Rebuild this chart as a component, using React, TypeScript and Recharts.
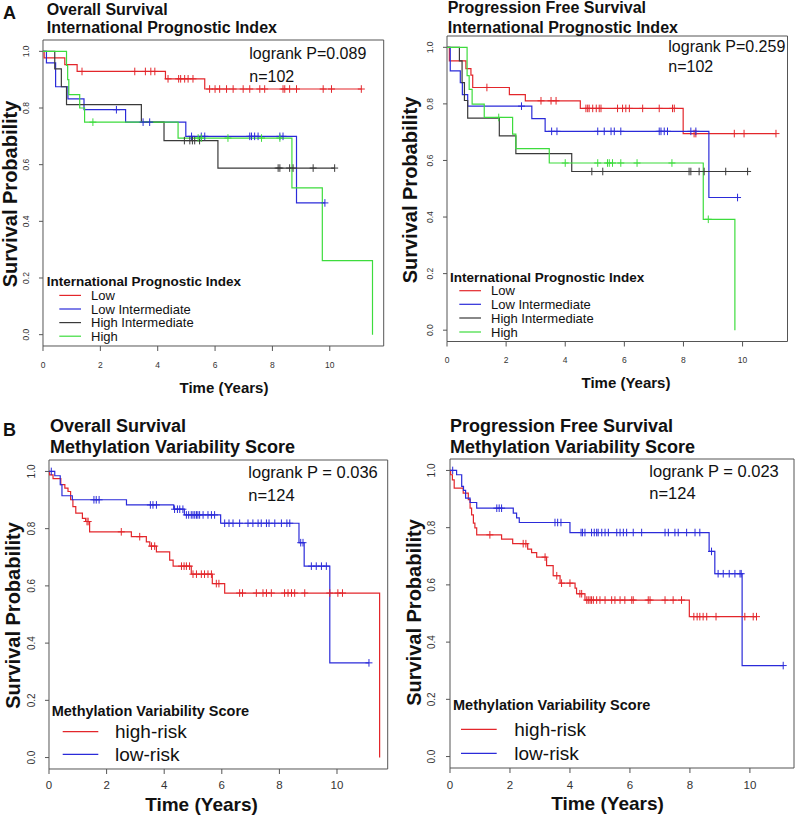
import React from 'react';
import { LineChart, Line, XAxis, YAxis, ReferenceArea } from 'recharts';

// Kaplan-Meier curves: steps are [time, survival after the drop],
// censors are the times of the "+" marks.
const X_TICKS = [0, 2, 4, 6, 8, 10];
const Y_TICKS = [0, 0.2, 0.4, 0.6, 0.8, 1.0];

// A left: overall survival by IPI
const osIpiLowSteps = [[0, 1], [0.04, 0.977], [0.76, 0.953], [1.19, 0.929], [4.27, 0.903], [5.64, 0.867]];
const osIpiLowCensors = [1.36, 3.2, 3.57, 3.76, 3.9, 4.36, 4.73, 4.8, 4.94, 5.06, 5.23, 5.81, 6.0, 6.16, 6.4, 6.63, 6.98, 7.21, 7.56, 7.73, 8.37, 8.43, 8.6, 8.84, 9.77, 10.06, 11.1];
const osIpiLowIntSteps = [[0, 1], [0.12, 0.959], [0.44, 0.875], [0.87, 0.832], [1.43, 0.794], [2.88, 0.75], [4.98, 0.7], [8.84, 0.465]];
const osIpiLowIntCensors = [2.56, 3.49, 3.72, 5.18, 5.52, 5.64, 7.21, 7.27, 7.38, 7.5, 8.26, 8.37, 9.83];
const osIpiHighIntSteps = [[0, 1], [0.41, 0.938], [0.64, 0.875], [0.82, 0.812], [3.43, 0.75], [4.22, 0.685], [6.1, 0.588]];
const osIpiHighIntCensors = [4.93, 5.12, 5.21, 5.29, 5.46, 8.2, 8.26, 8.6, 8.72, 9.42, 10.17];
const osIpiHighSteps = [[0, 1], [0.82, 0.95], [0.86, 0.9], [0.9, 0.847], [1.28, 0.8], [1.45, 0.75], [4.71, 0.694], [8.68, 0.518], [9.74, 0.261], [11.49, 0]];
const osIpiHighCensors = [1.74, 5.41, 5.52, 6.45, 7.62, 8.26];

// A right: progression free survival by IPI
const pfsIpiLowSteps = [[0, 1], [0.08, 0.952], [0.64, 0.925], [0.81, 0.902], [0.87, 0.858], [2.11, 0.833], [2.65, 0.811], [4.51, 0.784], [7.99, 0.695]];
const pfsIpiLowCensors = [1.35, 3.18, 3.52, 3.69, 4.7, 4.76, 4.81, 4.93, 5.05, 5.15, 5.21, 5.77, 5.94, 6.05, 6.17, 6.62, 7.18, 7.63, 7.69, 8.36, 8.42, 9.72, 10.05, 11.13];
const pfsIpiLowIntSteps = [[0, 1], [0.11, 0.917], [0.45, 0.875], [0.52, 0.833], [0.7, 0.792], [2.87, 0.748], [3.32, 0.703], [8.86, 0.469]];
const pfsIpiLowIntCensors = [2.52, 3.54, 3.72, 5.1, 5.32, 5.55, 5.66, 5.88, 7.18, 7.24, 7.35, 7.46, 8.25, 8.42, 9.83];
const pfsIpiHighIntSteps = [[0, 1], [0.42, 0.952], [0.51, 0.875], [0.59, 0.812], [0.7, 0.75], [1.77, 0.687], [2.33, 0.624], [4.22, 0.561]];
const pfsIpiHighIntCensors = [4.9, 5.27, 8.19, 8.25, 8.53, 8.7, 9.43, 10.17];
const pfsIpiHighSteps = [[0, 1], [0.68, 0.9], [0.75, 0.851], [0.85, 0.799], [1.26, 0.752], [2.22, 0.693], [2.33, 0.642], [3.46, 0.591], [8.67, 0.392], [9.74, 0]];
const pfsIpiHighCensors = [1.75, 4.0, 5.1, 5.43, 5.49, 5.6, 5.88, 6.43, 7.61, 8.84];

// B left: overall survival by methylation variability score
const osMvsHighSteps = [[0, 1], [0.02, 0.988], [0.14, 0.975], [0.41, 0.954], [0.55, 0.942], [0.66, 0.93], [0.75, 0.901], [0.83, 0.877], [0.93, 0.854], [1.16, 0.836], [1.27, 0.825], [1.41, 0.789], [2.86, 0.772], [3.38, 0.754], [3.5, 0.739], [3.73, 0.719], [4.19, 0.69], [4.31, 0.669], [4.94, 0.641], [5.67, 0.608], [6.1, 0.575], [11.48, 0]];
const osMvsHighCensors = [1.32, 1.36, 2.51, 3.15, 3.56, 3.67, 4.6, 4.69, 4.77, 4.88, 5.0, 5.12, 5.29, 5.4, 5.52, 5.64, 5.81, 5.9, 6.62, 6.72, 7.2, 7.43, 7.55, 7.72, 8.18, 8.3, 8.42, 8.53, 8.88, 9.75, 10.03, 10.19];
const osMvsLowSteps = [[0, 1], [0.2, 0.985], [0.39, 0.954], [0.45, 0.915], [0.81, 0.901], [2.69, 0.883], [4.33, 0.868], [4.7, 0.848], [5.96, 0.819], [8.68, 0.751], [8.86, 0.669], [9.75, 0.331]];
const osMvsLowCensors = [0.08, 1.56, 1.64, 1.74, 3.52, 3.61, 3.73, 4.36, 4.46, 4.54, 4.65, 4.77, 4.85, 4.94, 5.0, 5.06, 5.12, 5.17, 5.23, 5.35, 5.52, 5.64, 5.75, 6.1, 6.25, 6.39, 6.62, 6.91, 7.08, 7.26, 7.37, 7.55, 7.64, 7.84, 8.07, 8.26, 8.36, 8.74, 8.82, 9.11, 9.28, 9.46, 9.63, 11.11];

// B right: progression free survival by methylation variability score
const pfsMvsHighSteps = [[0, 1], [0.02, 0.985], [0.08, 0.967], [0.14, 0.938], [0.44, 0.921], [0.61, 0.898], [0.67, 0.868], [0.72, 0.845], [0.78, 0.816], [0.83, 0.799], [0.89, 0.775], [1.72, 0.76], [2.09, 0.744], [2.59, 0.725], [2.72, 0.713], [2.89, 0.697], [3.22, 0.667], [3.44, 0.632], [3.67, 0.606], [4.17, 0.589], [4.22, 0.569], [4.5, 0.547], [7.98, 0.489]];
const pfsMvsHighCensors = [1.33, 2.44, 2.53, 3.17, 3.56, 3.72, 4.0, 4.33, 4.39, 4.56, 4.61, 4.67, 4.72, 4.78, 4.89, 5.0, 5.17, 5.39, 5.5, 5.67, 5.83, 6.06, 6.11, 6.61, 6.67, 7.17, 7.44, 7.72, 8.13, 8.24, 8.33, 8.44, 8.56, 8.87, 9.83, 10.11, 10.22];
const pfsMvsLowSteps = [[0, 1], [0.22, 0.985], [0.39, 0.944], [0.45, 0.93], [0.52, 0.903], [0.67, 0.888], [0.89, 0.868], [2.11, 0.851], [2.22, 0.834], [2.31, 0.818], [4.0, 0.783], [8.64, 0.717], [8.83, 0.639], [9.74, 0.318]];
const pfsMvsLowCensors = [0.09, 1.56, 1.64, 1.72, 3.5, 3.59, 3.7, 4.37, 4.42, 4.5, 4.72, 4.81, 4.89, 4.94, 5.06, 5.17, 5.28, 5.56, 5.67, 5.78, 5.89, 6.11, 6.39, 7.17, 7.28, 7.5, 7.61, 7.89, 8.17, 8.33, 8.72, 8.94, 9.11, 9.31, 9.5, 9.67, 9.71, 11.11];

const RED = '#e3262b';
const BLUE = '#2b2bd9';
const BLACK = '#3a3a3a';
const GREEN = '#3ddc3d';
const FONT = '"Liberation Sans", Arial, Helvetica, sans-serif';

// merge steps and censor marks into one list for a stepAfter line
const buildCurve = (steps: number[][], censors: number[]) => {
  const pts = steps.map(([t, s]) => ({ t, s, c: false }));
  censors.forEach(t => {
    let s = 1;
    steps.forEach(st => { if (st[0] <= t) s = st[1]; });
    pts.push({ t, s, c: true });
  });
  return pts.sort((a, b) => a.t - b.t || (a.c ? 1 : 0) - (b.c ? 1 : 0));
};

const censorDot = (color: string) => (p: any) => {
  const { cx, cy, payload, index } = p;
  if (!payload || !payload.c) return <g key={`n${index}`} />;
  return (
    <path key={`c${index}`} d={`M${cx},${cy - 3.8}V${cy + 3.8}M${cx - 3.5},${cy}H${cx + 3.5}`} stroke={color} strokeWidth={1} fill="none" />
  );
};

interface Box { L: number; T: number; R: number; B: number }
interface Series { data: { t: number; s: number; c: boolean }[]; color: string; name: string }

const Panel = ({ box, xMax, series, xFs, yFs, xOff, yOff }: { box: Box; xMax: number; series: Series[]; xFs: number; yFs: number; xOff: number; yOff: number }) => {
  const yW = 40, xH = 34, pad = 2;
  const w = box.R - box.L;
  const h = box.B - box.T;
  const xTick = (p: any) => (
    <text x={p.x} y={pad + h + xOff} fontSize={xFs} fontFamily={FONT} fill="#333" textAnchor="middle" dominantBaseline="central">
      {p.payload.value}
    </text>
  );
  const yTick = (p: any) => {
    const cx = yW - yOff;
    return (
      <text x={cx} y={p.y} fontSize={yFs} fontFamily={FONT} fill="#333" textAnchor="middle" dominantBaseline="central" transform={`rotate(-90 ${cx} ${p.y})`}>
        {Number(p.payload.value).toFixed(1)}
      </text>
    );
  };
  return (
    <div style={{ position: 'absolute', left: box.L - yW, top: box.T - pad }}>
      <LineChart width={yW + w + pad} height={pad + h + xH} margin={{ top: pad, right: pad, left: 0, bottom: 0 }}>
        <XAxis type="number" dataKey="t" domain={[0, xMax]} allowDataOverflow ticks={X_TICKS} interval={0} height={xH}
          axisLine={false} tickSize={5} tickLine={{ stroke: '#555' }} tick={xTick} />
        <YAxis type="number" domain={[-0.04, 1.04]} allowDataOverflow ticks={Y_TICKS} interval={0} width={yW}
          axisLine={false} tickSize={4} tickLine={{ stroke: '#555' }} tick={yTick} />
        <ReferenceArea x1={0} x2={xMax} y1={-0.04} y2={1.04} fill="none" stroke="#555" strokeWidth={1} ifOverflow="visible" />
        {series.map(s => (
          <Line key={s.name} data={s.data} dataKey="s" name={s.name} type="stepAfter" stroke={s.color} strokeWidth={1.2}
            dot={censorDot(s.color)} activeDot={false} isAnimationActive={false} legendType="none" />
        ))}
      </LineChart>
    </div>
  );
};

const T = ({ x, y, size, bold, children, anchor = 'start', rot, base = 'central' }: any) => (
  <text x={x} y={y} fontSize={size} fontWeight={bold ? 700 : 400} fontFamily={FONT} fill="#111"
    textAnchor={anchor} dominantBaseline={base} transform={rot ? `rotate(-90 ${x} ${y})` : undefined}>
    {children}
  </text>
);

const LegendKeys = ({ x0, x1, tx, ys, items, size }: any) => (
  <g>
    {items.map((it: any, i: number) => (
      <g key={it.name}>
        <line x1={x0} x2={x1} y1={ys[i]} y2={ys[i]} stroke={it.color} strokeWidth={1.2} />
        <T x={tx} y={ys[i]} size={size}>{it.name}</T>
      </g>
    ))}
  </g>
);

export default function App() {
  const ipiA = [
    { name: 'Low', color: RED }, { name: 'Low Intermediate', color: BLUE },
    { name: 'High Intermediate', color: BLACK }, { name: 'High', color: GREEN },
  ];
  const mvs = [{ name: 'high-risk', color: RED }, { name: 'low-risk', color: BLUE }];

  const osIpi: Series[] = [
    { name: 'Low', color: RED, data: buildCurve(osIpiLowSteps, osIpiLowCensors) },
    { name: 'Low Intermediate', color: BLUE, data: buildCurve(osIpiLowIntSteps, osIpiLowIntCensors) },
    { name: 'High Intermediate', color: BLACK, data: buildCurve(osIpiHighIntSteps, osIpiHighIntCensors) },
    { name: 'High', color: GREEN, data: buildCurve(osIpiHighSteps, osIpiHighCensors) },
  ];
  const pfsIpi: Series[] = [
    { name: 'Low', color: RED, data: buildCurve(pfsIpiLowSteps, pfsIpiLowCensors) },
    { name: 'Low Intermediate', color: BLUE, data: buildCurve(pfsIpiLowIntSteps, pfsIpiLowIntCensors) },
    { name: 'High Intermediate', color: BLACK, data: buildCurve(pfsIpiHighIntSteps, pfsIpiHighIntCensors) },
    { name: 'High', color: GREEN, data: buildCurve(pfsIpiHighSteps, pfsIpiHighCensors) },
  ];
  const osMvs: Series[] = [
    { name: 'high-risk', color: RED, data: buildCurve(osMvsHighSteps, osMvsHighCensors) },
    { name: 'low-risk', color: BLUE, data: buildCurve(osMvsLowSteps, osMvsLowCensors) },
  ];
  const pfsMvs: Series[] = [
    { name: 'high-risk', color: RED, data: buildCurve(pfsMvsHighSteps, pfsMvsHighCensors) },
    { name: 'low-risk', color: BLUE, data: buildCurve(pfsMvsLowSteps, pfsMvsLowCensors) },
  ];

  return (
    <div style={{ position: 'absolute', left: 0, top: 0, width: 797, height: 815, background: '#fff', overflow: 'hidden' }}>
      <Panel box={{ L: 43.3, T: 40, R: 384, B: 346 }} xMax={11.88} series={osIpi} xFs={8.5} yFs={8.5} xOff={19} yOff={16.6} />
      <Panel box={{ L: 446.5, T: 36, R: 787, B: 341.5 }} xMax={11.52} series={pfsIpi} xFs={8.5} yFs={8.5} xOff={18} yOff={17.4} />
      <Panel box={{ L: 49.3, T: 460, R: 388, B: 769 }} xMax={11.76} series={osMvs} xFs={11.5} yFs={10} xOff={16.5} yOff={17.6} />
      <Panel box={{ L: 450, T: 459, R: 794, B: 768 }} xMax={11.47} series={pfsMvs} xFs={11.5} yFs={10} xOff={16.5} yOff={18.3} />

      <svg width={797} height={815} style={{ position: 'absolute', left: 0, top: 0, pointerEvents: 'none' }}>
        {/* A left */}
        <T x={3} y={12.5} size={18} bold>A</T>
        <T x={46.7} y={15} size={16} bold base="alphabetic">Overall Survival</T>
        <T x={46.7} y={33.3} size={16} bold base="alphabetic">International Prognostic Index</T>
        <T x={249.3} y={53.3} size={16}>logrank P=0.089</T>
        <T x={249.3} y={76} size={16}>n=102</T>
        <T x={17} y={194} size={20} bold anchor="middle" rot base="alphabetic">Survival Probability</T>
        <T x={224} y={387.5} size={15} bold anchor="middle">Time (Years)</T>
        <T x={46.7} y={281} size={13.5} bold>International Prognostic Index</T>
        <LegendKeys x0={59.3} x1={81} tx={91} ys={[295.4, 309.0, 322.6, 336.2]} items={ipiA} size={13} />

        {/* A right */}
        <T x={447.7} y={13.3} size={16} bold base="alphabetic">Progression Free Survival</T>
        <T x={447.7} y={33.3} size={16} bold base="alphabetic">International Prognostic Index</T>
        <T x={668.3} y={46.7} size={16}>logrank P=0.259</T>
        <T x={668.3} y={66.7} size={16}>n=102</T>
        <T x={416.7} y={190} size={20} bold anchor="middle" rot base="alphabetic">Survival Probability</T>
        <T x={626} y={382.5} size={15} bold anchor="middle">Time (Years)</T>
        <T x={450} y={277} size={13.5} bold>International Prognostic Index</T>
        <LegendKeys x0={459.3} x1={481} tx={491} ys={[290.7, 304.3, 318, 332]} items={ipiA} size={13} />

        {/* B left */}
        <T x={3} y={430} size={18} bold>B</T>
        <T x={50} y={431.7} size={18} bold base="alphabetic">Overall Survival</T>
        <T x={50} y={453.3} size={18} bold base="alphabetic">Methylation Variability Score</T>
        <T x={248.3} y={472.3} size={16.5}>logrank P = 0.036</T>
        <T x={248.3} y={495} size={16.5}>n=124</T>
        <T x={20} y={615.5} size={20} bold anchor="middle" rot base="alphabetic">Survival Probability</T>
        <T x={201.5} y={804} size={19} bold anchor="middle">Time (Years)</T>
        <T x={51.7} y={710.5} size={14.5} bold>Methylation Variability Score</T>
        <LegendKeys x0={62.7} x1={98.3} tx={115} ys={[731.7, 754.3]} items={mvs} size={19} />

        {/* B right */}
        <T x={450} y={431.7} size={18} bold base="alphabetic">Progression Free Survival</T>
        <T x={450} y={453.3} size={18} bold base="alphabetic">Methylation Variability Score</T>
        <T x={649.3} y={471} size={16.5}>logrank P = 0.023</T>
        <T x={649.3} y={492.7} size={16.5}>n=124</T>
        <T x={420.7} y={612.5} size={20} bold anchor="middle" rot base="alphabetic">Survival Probability</T>
        <T x={607.5} y={803} size={19} bold anchor="middle">Time (Years)</T>
        <T x={453} y={704.5} size={14.5} bold>Methylation Variability Score</T>
        <LegendKeys x0={461} x1={496.7} tx={514.3} ys={[729.3, 753.3]} items={mvs} size={19} />
      </svg>
    </div>
  );
}
